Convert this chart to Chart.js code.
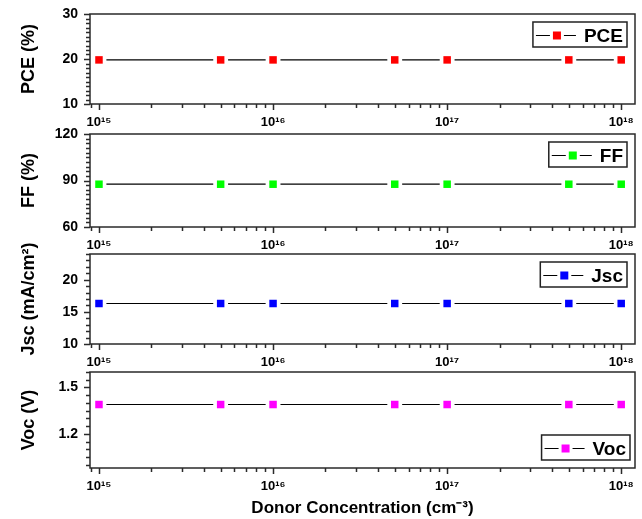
<!DOCTYPE html>
<html>
<head>
<meta charset="utf-8">
<script src="https://cdn.jsdelivr.net/npm/chart.js@4/dist/chart.umd.min.js"></script>
<style>
  body { margin: 0; background: #fff; }
  .panel { position: absolute; left: 0; width: 642px; }
</style>
</head>
<body>
<div class="panel" style="top:0;height:134px"><canvas id="pce"></canvas></div>
<div class="panel" style="top:120px;height:137px"><canvas id="ff"></canvas></div>
<div class="panel" style="top:240px;height:134px"><canvas id="jsc"></canvas></div>
<div class="panel" style="top:358px;height:161px"><canvas id="voc"></canvas></div>
<script>
// donor concentrations (cm^-3)
const concentrations = [1e15, 5e15, 1e16, 5e16, 1e17, 5e17, 1e18];
const pceValues = [19.8, 19.8, 19.8, 19.8, 19.8, 19.8, 19.8];
const ffValues = [87.6, 87.6, 87.6, 87.6, 87.6, 87.6, 87.6];
const jscValues = [16.3, 16.3, 16.3, 16.3, 16.3, 16.3, 16.3];
const vocValues = [1.39, 1.39, 1.39, 1.39, 1.39, 1.39, 1.39];

// tick labels
const xMajorTicks = [1e15, 1e16, 1e17, 1e18];
const pceTicks = [10, 20, 30];
const ffTicks = [60, 90, 120];
const jscTicks = [10, 15, 20];
const vocTicks = [1.2, 1.5];

const FONT = '"Liberation Sans", Arial, sans-serif';
const supMap = {'0':'⁰','1':'¹','2':'²','3':'³','4':'⁴','5':'⁵','6':'⁶','7':'⁷','8':'⁸','9':'⁹','-':'⁻'};
function sup(s) {
    return String(s).split('').map(c => supMap[c] || c).join('');
}
function isMajorX(v) {
    return xMajorTicks.some(m => Math.abs(v / m - 1) < 1e-6);
}

// frame + tick marks (outward, long for majors)
const frameTicks = {
    id: 'frameTicks',
    afterDraw(chart) {
        const ctx = chart.ctx;
        const a = chart.chartArea;
        const xs = chart.scales.x;
        const ys = chart.scales.y;
        const yMajors = chart.options.plugins.frameTicks.majors;
        ctx.save();
        ctx.strokeStyle = '#2a2a2a';
        ctx.lineWidth = 1.5;
        ctx.beginPath();
        xs.ticks.forEach(t => {
            const px = Math.round(xs.getPixelForValue(t.value)) + 0.5;
            const len = isMajorX(t.value) ? 6 : 4;
            ctx.moveTo(px, a.bottom);
            ctx.lineTo(px, a.bottom + len);
        });
        ys.ticks.forEach(t => {
            const py = Math.round(ys.getPixelForValue(t.value)) + 0.5;
            const len = yMajors.some(m => Math.abs(m - t.value) < 1e-6) ? 6 : 4;
            ctx.moveTo(a.left, py);
            ctx.lineTo(a.left - len, py);
        });
        ctx.stroke();
        ctx.strokeRect(a.left, a.top, a.right - a.left, a.bottom - a.top);
        ctx.restore();
    }
};

// boxed legend:  —■— LABEL
const boxLegend = {
    id: 'boxLegend',
    afterDraw(chart, args, opts) {
        const ctx = chart.ctx;
        const a = chart.chartArea;
        const ds = chart.data.datasets[0];
        ctx.save();
        ctx.font = 'bold 19px ' + FONT;
        const tw = ctx.measureText(ds.label).width;
        const w = 3 + 14 + 3 + 8 + 3 + 12 + 8 + tw + 4;
        const h = 25;
        const x = a.right - opts.right - w;
        const y = opts.position === 'bottom' ? a.bottom - opts.offset - h : a.top + opts.offset;
        ctx.fillStyle = '#fff';
        ctx.fillRect(x, y, w, h);
        ctx.strokeStyle = '#222';
        ctx.lineWidth = 1.5;
        ctx.strokeRect(x, y, w, h);
        const my = Math.round(y + h / 2) + 0.5;
        ctx.lineWidth = 1.2;
        ctx.strokeStyle = '#000';
        ctx.beginPath();
        ctx.moveTo(x + 3, my);
        ctx.lineTo(x + 17, my);
        ctx.moveTo(x + 31, my);
        ctx.lineTo(x + 43, my);
        ctx.stroke();
        ctx.fillStyle = ds.pointBackgroundColor;
        ctx.fillRect(x + 20, my - 4, 8, 8);
        ctx.fillStyle = '#000';
        ctx.textBaseline = 'middle';
        ctx.fillText(ds.label, x + 51, my + 1);
        ctx.restore();
    }
};

function makePanel(id, cfg) {
    const pts = cfg.values.map((v, i) => ({x: concentrations[i], y: v}));
    return new Chart(document.getElementById(id), {
        type: 'line',
        data: {
            datasets: [
                {
                    label: cfg.label,
                    data: pts,
                    showLine: false,
                    pointStyle: 'rect',
                    pointRadius: 5.3,
                    pointBackgroundColor: cfg.color,
                    pointBorderWidth: 0
                },
                {
                    label: 'line',
                    data: pts,
                    borderColor: '#000',
                    borderWidth: 1.2,
                    pointStyle: 'rect',
                    pointRadius: 10.5,
                    pointBackgroundColor: '#fff',
                    pointBorderWidth: 0
                }
            ]
        },
        options: {
            responsive: true,
            maintainAspectRatio: false,
            animation: false,
            events: [],
            layout: { autoPadding: false, padding: { top: 14, right: 7, left: 0, bottom: 0 } },
            plugins: {
                legend: { display: false },
                tooltip: { enabled: false },
                frameTicks: { majors: cfg.majors },
                boxLegend: { position: cfg.legendPos, offset: 8, right: cfg.legendRight }
            },
            scales: {
                x: {
                    type: 'logarithmic',
                    min: 8.88e14,
                    max: 1.2e18,
                    grid: { display: false, drawTicks: true, tickLength: 11 },
                    border: { display: false },
                    afterBuildTicks(scale) {
                        const t = [];
                        for (let e = 14; e <= 18; e++) {
                            for (let s = 1; s <= 9; s++) {
                                const v = s * Math.pow(10, e);
                                if (v >= scale.min && v <= scale.max) t.push({value: v});
                            }
                        }
                        scale.ticks = t;
                    },
                    afterFit(scale) {
                        scale.height = cfg.xAxisH;
                        scale.paddingLeft = 0;
                        scale.paddingRight = 0;
                    },
                    ticks: {
                        autoSkip: false,
                        maxRotation: 0,
                        padding: 0,
                        color: '#000',
                        font: { family: FONT, size: 13, weight: 'bold' },
                        callback: (v) => isMajorX(v) ? '10' + sup(Math.round(Math.log10(v))) : ''
                    },
                    title: {
                        display: cfg.xTitle,
                        text: 'Donor Concentration (cm' + sup('-3') + ')',
                        color: '#000',
                        font: { family: FONT, size: 17, weight: 'bold' },
                        padding: { top: 0, bottom: 0 }
                    }
                },
                y: {
                    min: cfg.min,
                    max: cfg.max,
                    grid: { display: false, drawTicks: true, tickLength: 12 },
                    border: { display: false },
                    afterBuildTicks(scale) {
                        const t = [];
                        const step = cfg.step;
                        for (let k = Math.ceil(cfg.min / step - 1e-9); k * step <= cfg.max + 1e-9; k++) {
                            t.push({value: +(k * step).toFixed(4)});
                        }
                        scale.ticks = t;
                    },
                    afterFit(scale) {
                        scale.width = 90;
                        scale.paddingTop = 0;
                        scale.paddingBottom = 0;
                    },
                    ticks: {
                        autoSkip: false,
                        padding: 0,
                        color: '#000',
                        font: { family: FONT, size: 14, weight: 'bold' },
                        callback: (v) => cfg.majors.some(m => Math.abs(m - v) < 1e-6) ? cfg.fmt(v) : ''
                    },
                    title: {
                        display: true,
                        text: cfg.yTitle,
                        color: '#000',
                        font: { family: FONT, size: 18, weight: 'bold' },
                        padding: { top: 18, bottom: 0 }
                    }
                }
            }
        },
        plugins: [frameTicks, boxLegend]
    });
}

makePanel('pce', {
    values: pceValues, label: 'PCE', color: '#ff0000', yTitle: 'PCE (%)',
    min: 10, max: 30, step: 1, majors: pceTicks, fmt: v => String(v),
    xAxisH: 30, legendPos: 'top', legendRight: 8, xTitle: false
});
makePanel('ff', {
    values: ffValues, label: 'FF', color: '#00ff00', yTitle: 'FF (%)',
    min: 60, max: 120, step: 3, majors: ffTicks, fmt: v => String(v),
    xAxisH: 30, legendPos: 'top', legendRight: 8, xTitle: false
});
makePanel('jsc', {
    values: jscValues, label: 'Jsc', color: '#0000ff', yTitle: 'Jsc (mA/cm' + sup('2') + ')',
    min: 10, max: 24, step: 1, majors: jscTicks, fmt: v => String(v),
    xAxisH: 30, legendPos: 'top', legendRight: 8, xTitle: false
});
makePanel('voc', {
    values: vocValues, label: 'Voc', color: '#ff00ff', yTitle: 'Voc (V)',
    min: 0.98, max: 1.6, step: 0.05, majors: vocTicks, fmt: v => v.toFixed(1),
    xAxisH: 51, legendPos: 'bottom', legendRight: 5, xTitle: true
});
</script>
</body>
</html>
